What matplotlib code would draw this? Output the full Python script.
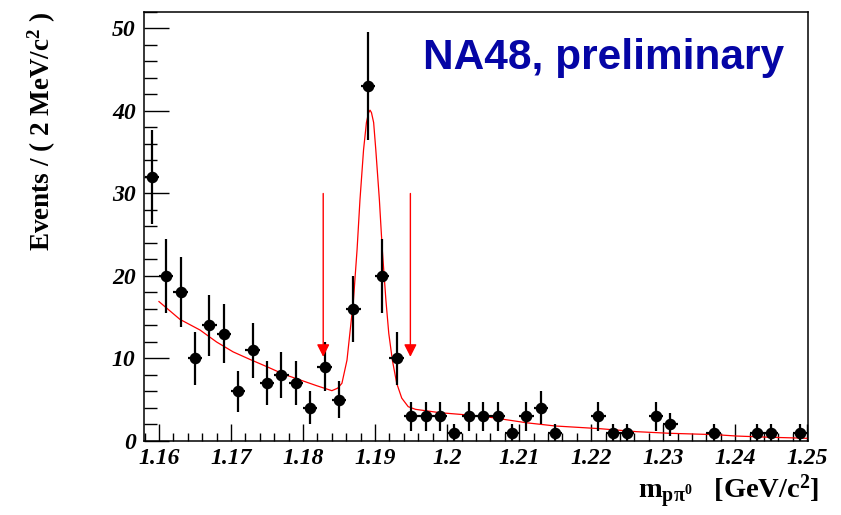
import numpy as np
import matplotlib
matplotlib.use("Agg")
import matplotlib.pyplot as plt
from matplotlib.ticker import MultipleLocator

plt.rcParams['font.family'] = 'Liberation Serif'
plt.rcParams['font.weight'] = 'bold'
plt.rcParams['mathtext.fontset'] = 'custom'
plt.rcParams['mathtext.rm'] = 'Liberation Serif:bold'
plt.rcParams['mathtext.bf'] = 'Liberation Serif:bold'
plt.rcParams['mathtext.it'] = 'Liberation Serif:bold'

# non-empty bins (2 MeV wide), bin centre in GeV
mass = [1.159, 1.161, 1.163, 1.165, 1.167, 1.169, 1.171, 1.173, 1.175, 1.177,
        1.179, 1.181, 1.183, 1.185, 1.187, 1.189, 1.191, 1.193, 1.195, 1.197,
        1.199, 1.201, 1.203, 1.205, 1.207, 1.209, 1.211, 1.213, 1.215, 1.221,
        1.223, 1.225, 1.229, 1.231, 1.237, 1.243, 1.245, 1.249]
counts = [32, 20, 18, 10, 14, 13, 6, 11, 7, 8,
          7, 4, 9, 5, 16, 43, 20, 10, 3, 3,
          3, 1, 3, 3, 3, 1, 3, 4, 1, 3,
          1, 1, 3, 2, 1, 1, 1, 1]

# fit curve
fit_x = [1.1600, 1.1629, 1.1657, 1.1680, 1.1703, 1.1726, 1.1750, 1.1773,
         1.1796, 1.1819, 1.1840, 1.1848, 1.1854, 1.1861, 1.1865, 1.1870,
         1.1875, 1.1879, 1.1884, 1.1888, 1.1891, 1.1893, 1.1895, 1.1898,
         1.1901, 1.1906, 1.1910, 1.1915, 1.1919, 1.1924, 1.1930, 1.1937,
         1.1946, 1.1956, 1.1990, 1.2050, 1.2111, 1.2150, 1.2211, 1.2263,
         1.2310, 1.2372, 1.2402, 1.2449, 1.2500]
fit_y = [16.9, 14.75, 13.45, 12.0, 10.8, 9.9, 9.0, 8.1,
         7.4, 6.7, 6.1, 6.4, 7.0, 9.8, 13.05, 17.1,
         23.2, 29.2, 35.3, 38.6, 39.8, 40.1, 39.8, 38.6,
         35.3, 29.2, 23.2, 17.1, 13.05, 9.8, 7.0, 5.2,
         4.16, 3.84, 3.43, 3.0, 2.2, 1.82, 1.5, 1.13,
         0.93, 0.77, 0.6, 0.45, 0.33]

# signal window arrows
arrow_x = [1.1828, 1.1949]
arrow_top = 30.0
arrow_tip = 10.2

xticks = [1.16, 1.17, 1.18, 1.19, 1.20, 1.21, 1.22, 1.23, 1.24, 1.25]
xtick_labels = ['1.16', '1.17', '1.18', '1.19', '1.2', '1.21', '1.22',
                '1.23', '1.24', '1.25']
yticks = [0, 10, 20, 30, 40, 50]
ytick_labels = ['0', '10', '20', '30', '40', '50']

fig = plt.figure(figsize=(8.41, 5.15), dpi=100)
ax = fig.add_axes([0.1712, 0.1437, 0.7896, 0.833])

ax.plot(fit_x, fit_y, color='red', lw=0.9, zorder=2)

yerr = np.sqrt(counts)
ax.errorbar(mass, counts, xerr=0.001, yerr=yerr, fmt='o', color='black',
            ms=7.3, elinewidth=1.6, capsize=0, zorder=3)

for xa in arrow_x:
    ax.annotate('', xy=(xa, arrow_tip), xytext=(xa, arrow_top),
                arrowprops=dict(arrowstyle='-|>,head_length=0.75,head_width=0.38',
                                color='red', lw=1.0, shrinkA=0, shrinkB=0))

ax.set_xlim(1.15792, 1.2501)
ax.set_ylim(0, 52.0)

lab_font = dict(family='Liberation Serif', fontweight='bold',
                fontstyle='italic', fontsize=17)
ax.set_xticks(xticks)
ax.set_xticklabels(xtick_labels, **lab_font)
ax.set_yticks(yticks)
ax.set_yticklabels(ytick_labels, **lab_font)
ax.xaxis.set_minor_locator(MultipleLocator(0.002))
ax.yaxis.set_minor_locator(MultipleLocator(2))
ax.tick_params(which='both', direction='in', top=False, right=False, width=1.0)
ax.tick_params(which='major', length=12)
ax.tick_params(which='minor', length=6)
ax.tick_params(axis='y', which='major', length=18)
ax.tick_params(axis='y', which='minor', length=9)
ax.tick_params(axis='x', pad=5)
ax.tick_params(axis='y', pad=6)
for sp in ax.spines.values():
    sp.set_linewidth(1.1)

fig.text(0.05, 0.978, r'Events / ( 2 MeV/c$^2$ )', rotation=90, ha='center',
         va='top', fontsize=19.5, fontweight='bold')
fig.text(0.974, 0.008, r'm$_{\mathrm{p\pi^0}}$   [GeV/c$^2$]', ha='right',
         va='bottom', fontsize=20.5, fontweight='bold')

ax.text(0.964, 0.893, 'NA48, preliminary', transform=ax.transAxes, ha='right',
        va='center', fontsize=30.5, fontweight='bold',
        color='#0505a5', family='Liberation Sans')

fig.savefig('out.png', dpi=100)
